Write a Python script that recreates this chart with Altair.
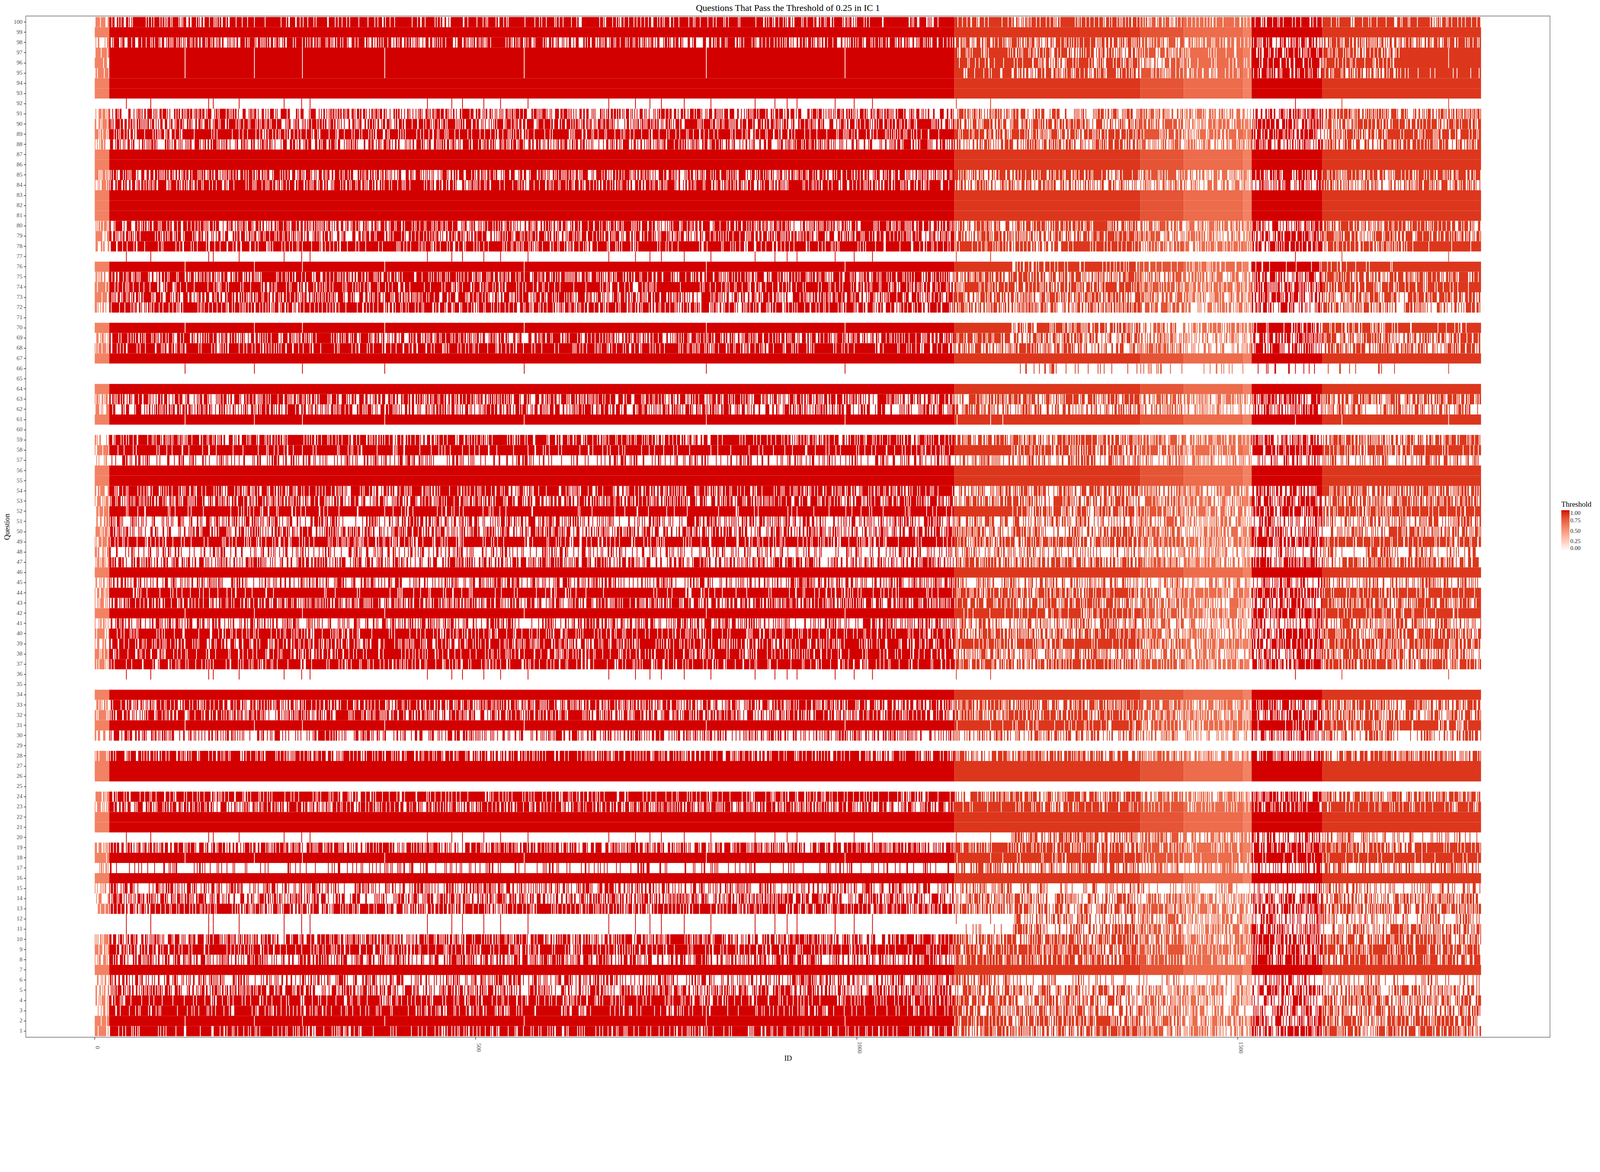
import numpy as np
import pandas as pd
import altair as alt

alt.data_transformers.disable_max_rows()

# respondent IDs run 1..1819, grouped by the threshold colour seen in the picture
n_ids = 1819
group_start = [1, 20, 1129, 1373, 1430, 1508, 1519, 1612]
group_threshold = [0.6, 1.0, 0.9, 0.8, 0.7, 0.6, 1.0, 0.9]

# ID blocks used to describe each question's row (P0..P8)
block_start = [1, 20, 1129, 1204, 1373, 1430, 1519, 1612, 1713]

# IDs that show as single white lines in near-full rows / red specks in near-empty rows
weak_ids = [119, 210, 273, 381, 564, 803, 985, 1132, 1176, 1192, 1576, 1637, 1777]
sparse_ids = [42, 74, 150, 156, 190, 249, 272, 283, 437, 469, 483, 511, 533, 569,
              675, 710, 729, 744, 774, 809, 867, 893, 909, 922, 972, 997, 1021,
              1131, 1176, 1576, 1637, 1777]

# row code per question, one char per block:
# F full, W full but weak ids, 0 empty, x only sparse ids, y only weak ids, 1-9 share passing (tenths)
row_codes = {
    100: "788777888", 99: "FFFFFFFFF", 98: "666666666", 97: "8W866877W", 96: "9W976888W",
    95: "8W9678779", 94: "FFFFFFFFF", 93: "FFFFFFFFF", 92: "0xxxxxxxx", 91: "555555565",
    90: "666666666", 89: "787777777", 88: "454555556", 87: "FFFFFFFFF", 86: "FFFFFFFFF",
    85: "566775677", 84: "675555555", 83: "FFFFFFFFF", 82: "FFFFFFFFF", 81: "FFFFFFFFF",
    80: "666666666", 79: "666666666", 78: "788777779", 77: "0xxxxxxxx", 76: "FWF88899F",
    75: "676666666", 74: "787777779", 73: "666666666", 72: "575555555", 71: "000000000",
    70: "FWF656889", 69: "667555566", 68: "685555555", 67: "FFFFFFFFF", 66: "0y022111x",
    65: "000000000", 64: "FFFFFFFFF", 63: "666666666", 62: "555444444", 61: "FWWWWWWWW",
    60: "000000000", 59: "676666666", 58: "89F777888", 57: "534444444", 56: "FFFFFFFFF",
    55: "FFFFFFFFF", 54: "675566666", 53: "666666666", 52: "89F766779", 51: "544444444",
    50: "555555555", 49: "787777788", 48: "434334333", 47: "656666666", 46: "FFFFFFFFF",
    45: "444444444", 44: "797777789", 43: "666666666", 42: "FW9877889", 41: "444444444",
    40: "786666666", 39: "778877777", 38: "785555555", 37: "787777777", 36: "0xxxxxxxx",
    35: "000000000", 34: "FFFFFFFFF", 33: "666666666", 32: "666666666", 31: "FWW877988",
    30: "444444444", 29: "000000000", 28: "776666666", 27: "FFFFFFFFF", 26: "FFFFFFFFF",
    25: "000000000", 24: "786666666", 23: "669888888", 22: "FFFFFFFFF", 21: "FFFFFFFFF",
    20: "0xx565442", 19: "667777777", 18: "9WW999999", 17: "324444444", 16: "FFFFFFFFF",
    15: "445222332", 14: "555555555", 13: "776666666", 12: "0xx444432", 11: "0x1555555",
    10: "666666666", 9: "787777777", 8: "557777777", 7: "FFFFFFFFF", 6: "445233332",
    5: "555555555", 4: "785555555", 3: "785555555", 2: "9W8666666", 1: "786666666",
}

# stripe texture (hand typed digits), used to place passes inside partly filled blocks
tex_a = "".join(["3815926047", "2956183740", "6192837450", "8374619205", "1749305826",
                 "4628095173", "9051472638", "2706348159", "5483710296", "0637251948", "7"])
tex_b = "".join(["7204918356", "4183962075", "9631750284", "5078243169", "2847105936",
                 "6319482705", "1956037428", "8402765193", "305187946"])

ids = np.arange(1, n_ids + 1)
level = np.array(group_threshold)[np.searchsorted(group_start, ids, side="right") - 1]
block_of = np.searchsorted(block_start, ids, side="right") - 1

recs = []
for q, code in row_codes.items():
    r = np.array([(int(tex_a[(i + 13 * q) % len(tex_a)]) + int(tex_b[(3 * i + 7 * q) % len(tex_b)])) % 10
                  for i in ids])
    on = np.zeros(n_ids, dtype=bool)
    for b, ch in enumerate(code):
        m = block_of == b
        if ch == "F":
            on[m] = True
        elif ch == "W":
            on[m] = ~np.isin(ids[m], weak_ids)
        elif ch == "x":
            on[m] = np.isin(ids[m], sparse_ids)
        elif ch == "y":
            on[m] = np.isin(ids[m], weak_ids)
        else:
            on[m] = r[m] < int(ch)
    val = np.where(on, level, 0.0)
    # merge neighbouring IDs with the same value into one tile
    s = 0
    for k in range(1, n_ids + 1):
        if k == n_ids or val[k] != val[s]:
            if val[s] > 0:
                recs.append((q, ids[s] - 0.5, ids[k - 1] + 0.5, float(val[s])))
            s = k

df = pd.DataFrame(recs, columns=["Question", "x0", "x1", "Threshold"])

font = "Liberation Serif"

chart = alt.Chart(df).mark_rect().encode(
    x=alt.X("x0:Q", title="ID",
            scale=alt.Scale(domain=[-90, 1910], nice=False, zero=False),
            axis=alt.Axis(values=[0, 500, 1000, 1500], format="d", grid=False, labelAngle=90,
                          labelAlign="center", labelBaseline="bottom", labelPadding=20.5,
                          tickSize=5.5, titlePadding=4)),
    x2="x1:Q",
    y=alt.Y("Question:O", title="Question",
            scale=alt.Scale(domain=list(range(100, 0, -1)), paddingInner=0, paddingOuter=0.1),
            axis=alt.Axis(tickSize=5.5, labelPadding=3.6, titlePadding=7)),
    color=alt.Color("Threshold:Q",
                    scale=alt.Scale(domain=[0, 1], range=["#ffffff", "#d30000"], interpolate="lab"),
                    legend=alt.Legend(title="Threshold", orient="none", legendX=3931, legendY=1241,
                                      values=[0, 0.25, 0.5, 0.75, 1], format=".2f",
                                      gradientLength=105, gradientThickness=21,
                                      gradientStrokeWidth=0, titleFontSize=19, labelFontSize=15,
                                      titleFont=font, labelFont=font, titleFontWeight="normal",
                                      titlePadding=5, labelColor="#1a1a1a")),
).properties(
    width=3902, height=2614,
    autosize=alt.AutoSizeParams(type="none"),
    padding={"left": 58, "top": 33, "right": 120, "bottom": 68},
    title=alt.Title("Questions That Pass the Threshold of 0.25 in IC 1", fontSize=23.6,
                    font=font, fontWeight="normal", anchor="middle", offset=8, color="#000000"),
).configure_view(
    stroke="#8a8a8a", strokeWidth=1.8
).configure_axis(
    domain=False, labelFont=font, titleFont=font, labelFontSize=14.9, titleFontSize=18.7,
    titleFontWeight="normal", labelColor="#4d4d4d", titleColor="#000000",
    tickColor="#4d4d4d", tickWidth=1.8
)

chart.save("out.html", embed_options={"renderer": "svg", "actions": False})
